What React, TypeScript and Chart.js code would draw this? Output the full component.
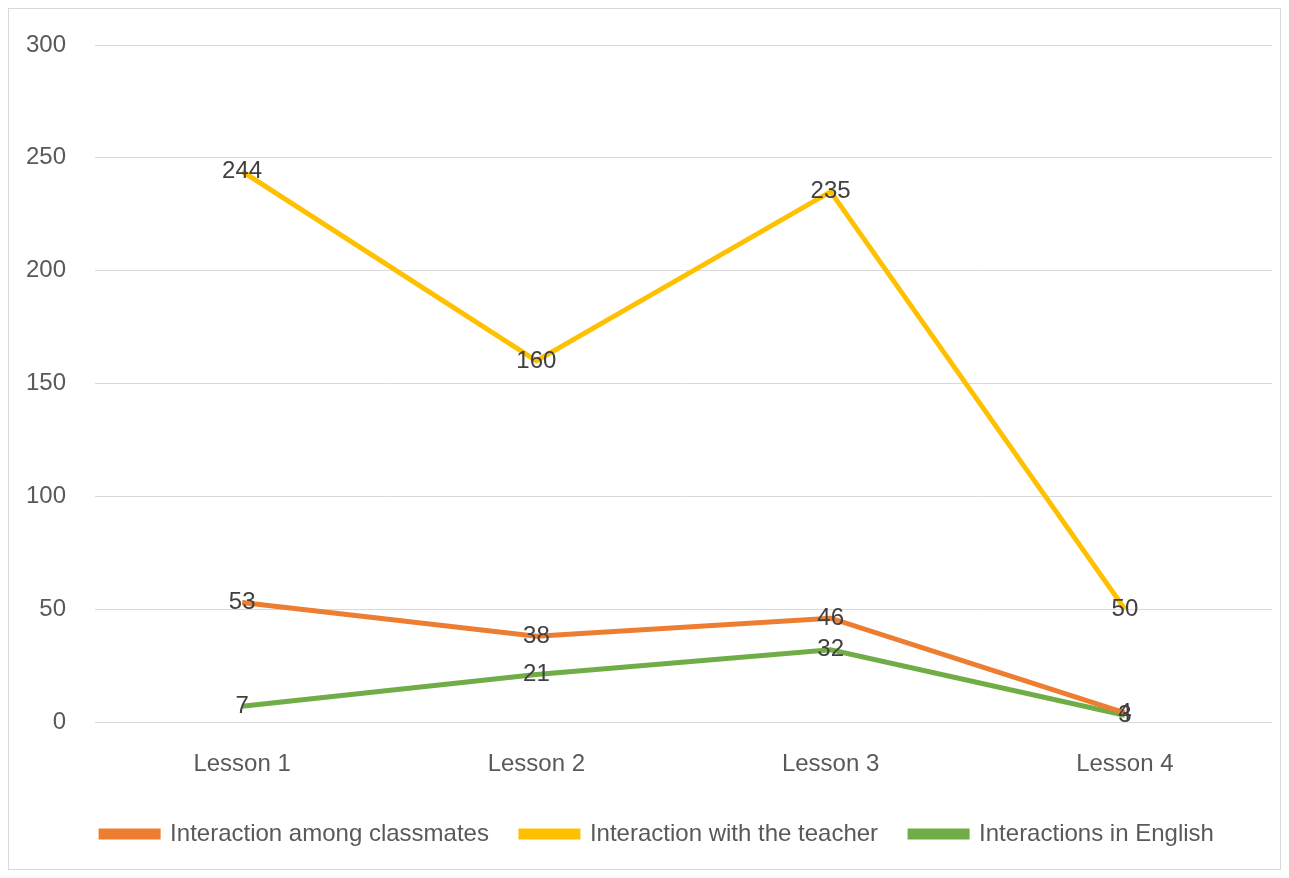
import React, { useEffect, useRef } from "react";
import { Chart, registerables } from "chart.js";

Chart.register(...registerables);

const categories = ["Lesson 1", "Lesson 2", "Lesson 3", "Lesson 4"];
const classmates = [53, 38, 46, 4];
const teacher = [244, 160, 235, 50];
const english = [7, 21, 32, 3];
const yTicks = [0, 50, 100, 150, 200, 250, 300];

const FONT = "'Liberation Sans Narrow', 'Liberation Sans', Arial, sans-serif";

const dataLabels = {
  id: "dataLabels",
  afterDatasetsDraw(chart: any) {
    const ctx = chart.ctx;
    ctx.save();
    ctx.font = `24px ${FONT}`;
    ctx.fillStyle = "#404040";
    ctx.textAlign = "center";
    ctx.textBaseline = "middle";
    chart.data.datasets.forEach((ds: any, i: number) => {
      const meta = chart.getDatasetMeta(i);
      meta.data.forEach((pt: any, j: number) => {
        ctx.fillText(String(ds.data[j]), pt.x, pt.y);
      });
    });
    ctx.restore();
  },
};

const legendShift = {
  id: "legendShift",
  afterLayout(chart: any) {
    const lg = chart.legend;
    if (lg) {
      lg.left += 34;
      lg.width -= 34;
    }
  },
};

export default function App() {
  const ref = useRef<HTMLCanvasElement>(null);
  useEffect(() => {
    const chart = new Chart(ref.current!, {
      type: "line",
      data: {
        labels: categories,
        datasets: [
          { label: "Interaction among classmates", data: classmates, borderColor: "#ED7D31", backgroundColor: "#ED7D31", borderWidth: 5, pointRadius: 0, tension: 0 },
          { label: "Interaction with the teacher", data: teacher, borderColor: "#FFC000", backgroundColor: "#FFC000", borderWidth: 5, pointRadius: 0, tension: 0 },
          { label: "Interactions in English", data: english, borderColor: "#70AD47", backgroundColor: "#70AD47", borderWidth: 5, pointRadius: 0, tension: 0 },
        ],
      },
      options: {
        animation: false,
        responsive: false,
        maintainAspectRatio: false,
        layout: { padding: { top: 36, right: 8, left: 0, bottom: 13 } },
        plugins: {
          tooltip: { enabled: false },
          legend: {
            position: "bottom",
            labels: {
              boxWidth: 57,
              boxHeight: 6,
              padding: 32,
              color: "#595959",
              font: { family: FONT, size: 24 },
            },
          },
        },
        scales: {
          x: {
            offset: true,
            grid: { display: false, drawTicks: false },
            border: { display: false },
            ticks: { color: "#595959", font: { family: FONT, size: 24 }, padding: 28 },
            afterFit: (s: any) => { s.height = 68; },
          },
          y: {
            min: 0,
            max: 300,
            afterBuildTicks: (s: any) => { s.ticks = yTicks.map((v) => ({ value: v })); },
            grid: { color: "#D9D9D9", lineWidth: 1, drawTicks: false },
            border: { display: false },
            ticks: { color: "#595959", font: { family: FONT, size: 24 }, padding: 29 },
            afterFit: (s: any) => { s.width = 86; s.paddingTop = 0; s.paddingBottom = 0; },
          },
        },
      },
      plugins: [dataLabels, legendShift],
    } as any);
    return () => chart.destroy();
  }, []);
  return (
    <div style={{ width: 1273, height: 862, border: "1px solid #D9D9D9", boxSizing: "border-box", background: "#fff" }}>
      <canvas ref={ref} width={1271} height={860} style={{ display: "block" }} />
    </div>
  );
}
